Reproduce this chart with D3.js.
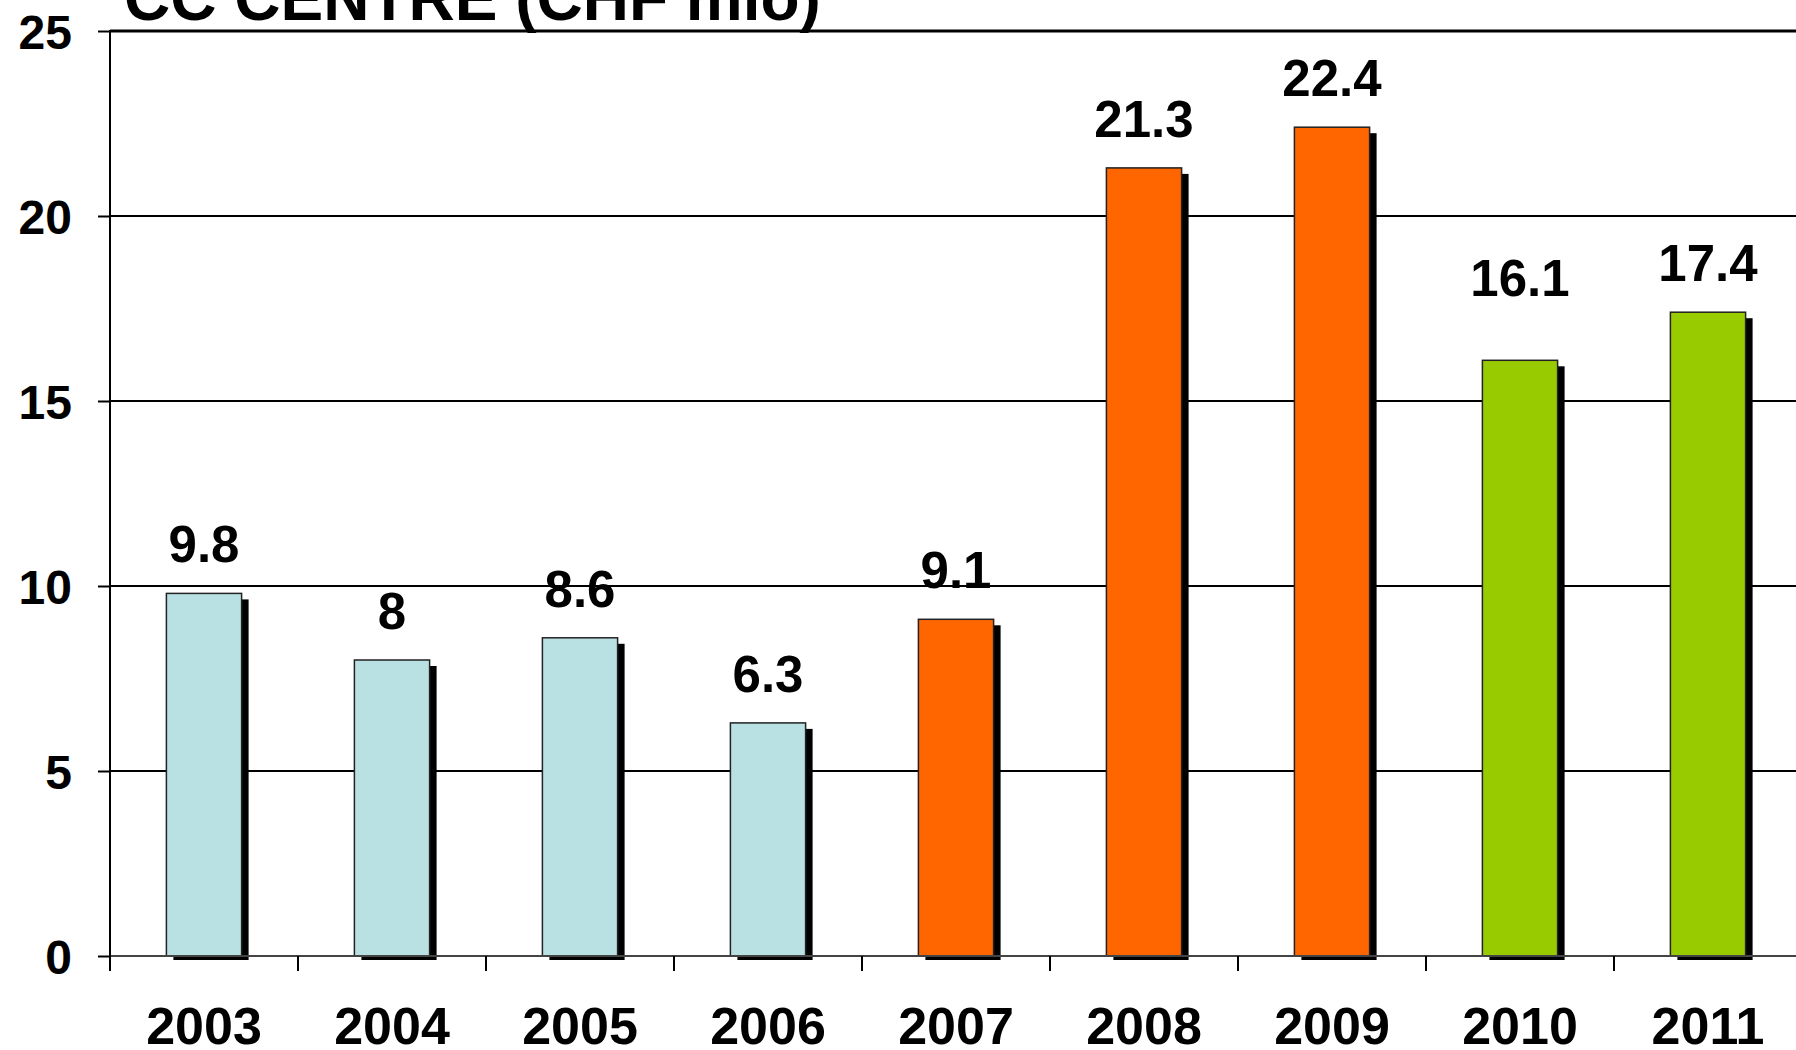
<!DOCTYPE html>
<html><head><meta charset="utf-8">
<script src="https://cdn.jsdelivr.net/npm/d3@7"></script>
<style>html,body{margin:0;padding:0;background:#fff;overflow:hidden}</style>
</head><body>
<svg id="chart" width="1796" height="1050"></svg>
<script>
const title = "CC CENTRE (CHF mio)";
const years = ["2003","2004","2005","2006","2007","2008","2009","2010","2011"];
const values = [9.8, 8, 8.6, 6.3, 9.1, 21.3, 22.4, 16.1, 17.4];
const groups = ["past","past","past","past","crisis","crisis","crisis","recent","recent"];
const yTicks = [0,5,10,15,20,25];
const groupColors = {past:"#B9E0E3", crisis:"#FF6600", recent:"#99CC00"};

const svg = d3.select("#chart");
const plotLeft = 110, plotRight = 1802, plotTop = 31, plotBottom = 956;
const font = "'Liberation Sans', Arial, sans-serif";

const x = d3.scaleBand().domain(years).range([plotLeft, plotRight]).paddingInner(0.6).paddingOuter(0.3);
const xb = d3.scaleBand().domain(years).range([plotLeft, plotRight]);
const y = d3.scaleLinear().domain([0,25]).range([plotBottom, plotTop]);

// gridlines
svg.append("g").selectAll("line").data(yTicks.filter(d=>d>0)).join("line")
  .attr("x1", plotLeft).attr("x2", plotRight).attr("y1", d=>y(d)).attr("y2", d=>y(d))
  .attr("stroke", "#000").attr("stroke-width", d=>d===25?3:2);

// shadows
svg.append("g").selectAll("rect").data(values).join("rect")
  .attr("x", (d,i)=>x(years[i])+7).attr("y", d=>y(d)+6)
  .attr("width", x.bandwidth()).attr("height", d=>plotBottom - y(d) - 2)
  .attr("fill", "#000");

// bars
svg.append("g").selectAll("rect").data(values).join("rect")
  .attr("x", (d,i)=>x(years[i])).attr("y", d=>y(d))
  .attr("width", x.bandwidth()).attr("height", d=>plotBottom - y(d))
  .attr("fill", (d,i)=>groupColors[groups[i]])
  .attr("stroke", "#222").attr("stroke-width", 1.5);

// baseline
svg.append("line").attr("x1", plotLeft).attr("x2", plotRight).attr("y1", plotBottom).attr("y2", plotBottom)
  .attr("stroke", "#444").attr("stroke-width", 2);

// y axis
const yAxis = d3.axisLeft(y).tickValues(yTicks).tickSize(12).tickPadding(26).tickFormat(d3.format("d"));
const gy = svg.append("g").attr("transform", `translate(${plotLeft},0)`).call(yAxis);
gy.select(".domain").remove();
gy.selectAll(".tick line").attr("stroke", "#000").attr("stroke-width", 2);
gy.selectAll(".tick text").attr("font-family", font).attr("font-weight", "bold")
  .attr("font-size", 48).attr("fill", "#000").attr("dy", "0.36em");
svg.append("line").attr("x1", plotLeft).attr("x2", plotLeft).attr("y1", plotTop-1).attr("y2", plotBottom+15)
  .attr("stroke", "#000").attr("stroke-width", 2);

// x ticks at band boundaries
const bounds = years.map(d=>xb(d)).concat([plotRight]);
svg.append("g").selectAll("line").data(bounds).join("line")
  .attr("x1", d=>d).attr("x2", d=>d).attr("y1", plotBottom).attr("y2", plotBottom+15)
  .attr("stroke", "#000").attr("stroke-width", 2);

// x labels
const xAxis = d3.axisBottom(xb).tickSize(0).tickPadding(0);
const gx = svg.append("g").attr("transform", `translate(0,${plotBottom})`).call(xAxis);
gx.select(".domain").remove();
gx.selectAll(".tick text").attr("font-family", font).attr("font-weight", "bold")
  .attr("font-size", 52).attr("fill", "#000").attr("dy", 0).attr("y", 88);

// value labels (the 2010 label sits higher above its bar in the original)
svg.append("g").selectAll("text").data(values).join("text")
  .attr("x", (d,i)=>x(years[i]) + x.bandwidth()/2)
  .attr("y", (d,i)=>y(d) - (years[i] === "2010" ? 64 : 31))
  .attr("text-anchor", "middle").attr("font-family", font).attr("font-weight", "bold")
  .attr("font-size", 51).attr("fill", "#000").text(d=>d);

// title
svg.append("text").attr("x", 124).attr("y", 20).attr("font-family", font).attr("font-weight", "bold")
  .attr("font-size", 64).attr("fill", "#000").text(title);
</script>
</body></html>
